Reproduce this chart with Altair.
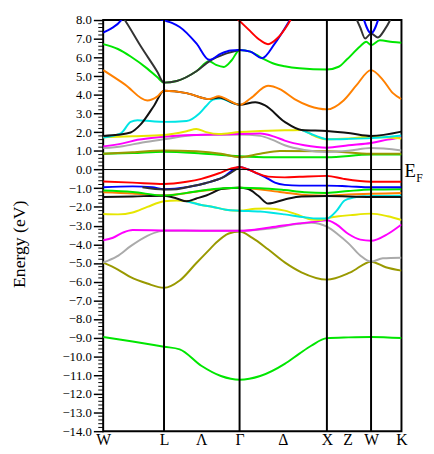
import altair as alt
import pandas as pd

# k-path positions (arbitrary path-length units) and labels
K_LINES = [62, 139, 228, 273]
K_LABEL_POS = [0, 62, 100, 139, 183, 228, 249, 273, 304]
K_LABELS = ["W", "L", "Λ", "Γ", "Δ", "X", "Z", "W", "K"]
E_MAJOR = list(range(-14, 9))

# ---- bands: (k, energy eV) ----
GREEN_LOW = [(0,-8.96),(30,-9.2),(62,-9.48),(78,-9.62),(100,-10.5),(120,-11.05),(139,-11.25),
             (160,-11.05),(185,-10.4),(200,-9.85),(212,-9.43),(228,-9.02),(250,-8.98),(273,-8.96),(304,-9.02)]
OLIVE_LOW = [(0,-4.98),(15,-5.35),(28,-5.76),(45,-6.1),(62,-6.33),(78,-5.94),(95,-5.0),(108,-4.3),
             (115,-3.92),(128,-3.42),(139,-3.32),(152,-3.66),(168,-4.27),(185,-4.97),(202,-5.5),
             (228,-5.89),(252,-5.5),(273,-4.93),(288,-5.23),(304,-5.41)]
GRAY_LOW = [(0,-4.98),(14,-4.65),(28,-4.10),(45,-3.55),(57,-3.31),(62,-3.27),(100,-3.28),(139,-3.28),
            (170,-3.15),(200,-2.9),(212,-2.85),(228,-3.06),(240,-3.5),(250,-3.95),(262,-4.6),
            (273,-4.93),(285,-4.75),(304,-4.72)]
MAGENTA_LOW = [(0,-3.78),(10,-3.65),(20,-3.38),(30,-3.24),(62,-3.26),(100,-3.27),(139,-3.28),
               (170,-3.1),(200,-2.88),(215,-2.8),(228,-2.71),(238,-2.95),(250,-3.45),(262,-3.75),
               (273,-3.81),(290,-3.45),(304,-2.94)]
YELLOW_VAL = [(0,-2.38),(15,-2.4),(30,-2.3),(45,-2.0),(62,-1.70),(75,-1.66),(85,-1.68),(100,-1.9),
              (112,-2.0),(125,-2.15),(139,-2.2),(155,-2.1),(168,-2.08),(185,-2.2),(200,-2.45),
              (212,-2.68),(222,-2.7),(228,-2.61),(240,-2.5),(252,-2.44),(273,-2.36),(290,-2.5),(304,-2.7)]
CYAN_VAL = [(85,-1.70),(100,-1.9),(112,-2.0),(125,-2.15),(139,-2.2),(160,-2.25),(185,-2.4),
            (205,-2.55),(218,-2.62),(228,-2.62),(238,-2.2),(246,-1.66),(255,-1.5),(265,-1.43),
            (273,-1.42),(304,-1.40)]
BLACK_VAL_LOW = [(0,-1.47),(30,-1.44),(62,-1.40),(75,-1.55),(85,-1.70),(95,-1.55),(105,-1.39),
                 (122,-1.03),(139,-0.98),(147,-1.03),(158,-1.4),(168,-1.82),(185,-1.6),(202,-1.44),
                 (228,-1.42),(273,-1.47),(304,-1.47)]
ORANGE_VAL = [(0,-1.21),(30,-1.28),(62,-1.39),(100,-1.15),(139,-0.98),(180,-1.2),(210,-1.38),
              (228,-1.40),(250,-1.33),(273,-1.30),(304,-1.26)]
GREEN_VAL = [(0,-1.12),(30,-1.2),(62,-1.39),(85,-1.25),(105,-1.1),(122,-1.0),(139,-0.98),(160,-1.0),
             (185,-1.1),(205,-1.21),(228,-1.25),(250,-1.15),(273,-1.07),(304,-1.05)]
BLUE_VAL = [(0,-0.95),(30,-0.90),(50,-0.95),(62,-1.05),(85,-0.95),(105,-0.72),(122,-0.42),(139,0.14),
            (148,0.0),(155,-0.16),(165,-0.4),(175,-0.7),(185,-0.82),(200,-0.86),(228,-0.86),
            (250,-0.9),(273,-0.95),(304,-0.95)]
BLACK_VAL_UP = [(40,-0.95),(62,-1.07),(75,-1.05),(85,-0.95),(105,-0.72),(122,-0.42),(139,0.14)]
RED_VAL = [(0,-0.64),(30,-0.7),(62,-0.77),(85,-0.65),(100,-0.5),(118,-0.2),(130,0.05),(139,0.14),
           (148,0.0),(155,-0.16),(168,-0.38),(185,-0.42),(200,-0.39),(228,-0.34),(245,-0.5),
           (273,-0.65),(304,-0.65)]
GREEN_COND = [(0,0.84),(30,0.88),(62,0.95),(100,0.86),(139,0.71),(170,0.66),(228,0.66),(273,0.80),(304,0.80)]
OLIVE_COND = [(0,0.84),(30,0.92),(62,1.02),(95,0.98),(120,0.85),(139,0.66),(160,0.85),(180,0.99),
              (228,0.98),(273,0.84),(304,0.84)]
GRAY_COND = [(0,1.15),(20,1.25),(40,1.45),(62,1.62),(95,1.85),(139,1.88),(160,1.8),(172,1.6),
             (185,1.3),(205,1.05),(228,0.94),(250,1.0),(273,1.15),(304,1.02)]
MAGENTA_COND = [(0,1.24),(20,1.4),(35,1.59),(62,1.76),(95,1.85),(120,1.88),(139,1.9),(160,1.93),
                (175,1.75),(185,1.55),(205,1.3),(228,1.17),(250,1.3),(273,1.42),(290,1.6),(304,1.73)]
YELLOW_COND = [(0,1.73),(30,1.78),(62,1.85),(85,2.05),(95,2.17),(105,2.0),(118,1.9),(139,2.01),
               (160,2.06),(185,2.1),(202,2.12),(215,1.8),(228,1.62),(250,1.66),(273,1.76),(304,1.66)]
CYAN_COND = [(0,1.71),(18,1.94),(28,2.55),(35,2.64),(50,2.58),(62,2.55),(85,2.6),(98,3.0),(105,3.4),
             (112,3.74),(120,3.8),(130,3.6),(139,3.46)]
CYAN_COND2 = [(202,2.12),(212,1.9),(222,1.7),(228,1.62),(250,1.64),(273,1.68),(304,1.82)]
BLACK_COND = [(0,1.80),(15,1.86),(28,1.98),(38,2.4),(52,3.43),(62,4.22),(85,4.09),(108,3.77),
              (118,3.85),(139,3.46),(155,3.6),(165,3.43),(185,2.55),(202,2.12),(228,2.06),
              (252,1.94),(273,1.80),(304,2.03)]
ORANGE_COND = [(0,5.32),(22,4.56),(45,3.69),(55,3.9),(62,4.22),(85,4.09),(108,3.77),(118,3.92),
               (128,3.7),(139,3.46),(150,3.8),(168,4.48),(180,4.3),(195,3.77),(210,3.4),(228,3.22),
               (245,3.7),(258,4.5),(273,5.32),(285,4.8),(295,4.1),(304,3.77)]
GREEN_HIGH = [(0,6.71),(15,6.45),(28,6.05),(45,5.4),(55,4.95),(62,4.65),(75,4.74),(95,5.26),
              (108,5.79),(115,5.6),(123,5.49),(131,5.85),(139,6.40),(150,6.31),(162,5.96),
              (175,5.65),(185,5.53),(200,5.42),(228,5.35),(240,5.5),(248,5.87),(262,6.6),
              (268,6.84),(273,6.66),(282,6.92),(295,6.82),(304,6.79)]
BLACK_HIGH = [(18,8.3),(22,8.0),(38,6.62),(55,5.25),(62,4.65),(75,4.74),(95,5.26),(108,5.79),
              (125,6.2),(139,6.40)]
BLUE_HIGH = [(0,7.33),(8,7.54),(18,7.97),(22,8.3)]
BLUE_HIGH2 = [(55,8.1),(62,7.98),(70,7.85),(78,7.63),(95,6.75),(108,5.87),(120,6.2),(130,6.37),
              (139,6.40),(150,6.31),(162,5.96),(175,6.75),(190,7.97),(194,8.3)]
RED_HIGH = [(132,8.3),(139,7.95),(148,7.5),(158,7.0),(168,6.71),(178,7.05),(188,7.75),(194,8.3)]
BLACK_W = [(256,8.3),(262,7.6),(267,7.01),(273,7.28),(280,7.07),(287,7.5),(292,7.95),(295,8.3)]
BLUE_W = [(264,8.3),(273,7.30),(282,8.3)]

BANDS = [
    ("green_low", "#00e600", GREEN_LOW), ("olive_low", "#999900", OLIVE_LOW),
    ("gray_low", "#aaaaaa", GRAY_LOW), ("magenta_low", "#ff00ff", MAGENTA_LOW),
    ("yellow_val", "#e6e600", YELLOW_VAL), ("cyan_val", "#00e5e5", CYAN_VAL),
    ("orange_val", "#ff8000", ORANGE_VAL), ("black_val_low", "#111111", BLACK_VAL_LOW),
    ("green_val", "#00e600", GREEN_VAL), ("blue_val", "#0000ff", BLUE_VAL),
    ("black_val_up", "#333333", BLACK_VAL_UP), ("red_val", "#ff0000", RED_VAL),
    ("green_cond", "#00e600", GREEN_COND), ("olive_cond", "#999900", OLIVE_COND),
    ("gray_cond", "#aaaaaa", GRAY_COND), ("magenta_cond", "#ff00ff", MAGENTA_COND),
    ("yellow_cond", "#e6e600", YELLOW_COND), ("cyan_cond2", "#00e5e5", CYAN_COND2),
    ("cyan_cond", "#00e5e5", CYAN_COND), ("black_cond", "#111111", BLACK_COND),
    ("orange_cond", "#ff8000", ORANGE_COND), ("green_high", "#00e600", GREEN_HIGH),
    ("black_high", "#333333", BLACK_HIGH), ("blue_high", "#0000ff", BLUE_HIGH),
    ("blue_high2", "#0000ff", BLUE_HIGH2), ("red_high", "#ff0000", RED_HIGH),
    ("black_w", "#333333", BLACK_W), ("blue_w", "#0000ff", BLUE_W),
]

rows = []
for z, (name, col, pts) in enumerate(BANDS):
    for i, (k, e) in enumerate(pts):
        rows.append({"band": f"{z:02d}_{name}", "color": col, "k": k, "E": e, "i": i})
df = pd.DataFrame(rows)

xscale = alt.Scale(domain=[0, 304], nice=False, zero=False)
yscale = alt.Scale(domain=[-14, 8], nice=False, zero=False)
SERIF = "Liberation Serif"

label_map = "{" + ",".join(f"'{p}':'{l}'" for p, l in zip(K_LABEL_POS, K_LABELS)) + "}"
x_axis = alt.Axis(values=K_LABEL_POS, title=None, grid=False, domain=False, ticks=False,
                  labelFont=SERIF, labelFontSize=16, labelColor="black", labelPadding=1,
                  labelFlush=False, labelOverlap=False, labelBound=False,
                  labelExpr=label_map + "[''+datum.value]")
y_axis = alt.Axis(values=E_MAJOR, format=".1f", title="Energy (eV)", grid=False, domain=False,
                  tickSize=10, tickColor="black", tickWidth=1.5, labelPadding=2,
                  labelOverlap=False, labelFlush=False, labelBound=False,
                  labelFont=SERIF, labelFontSize=13, labelColor="black",
                  titleFont=SERIF, titleFontSize=18, titleFontWeight="normal", titleColor="black",
                  titleX=-85, titleY=228, titleAngle=-90, titleAlign="center", titleBaseline="middle")

X = lambda: alt.X("k:Q", scale=xscale, axis=x_axis)
Y = lambda: alt.Y("E:Q", scale=yscale, axis=y_axis)

lines = alt.Chart(df).mark_line(interpolate="monotone", strokeWidth=2, clip=True).encode(
    x=X(), y=Y(),
    color=alt.Color("color:N", scale=None),
    detail="band:N",
    order="i:Q",
)

vlines = alt.Chart(pd.DataFrame({"k": K_LINES})).mark_rule(color="black", strokeWidth=2).encode(x=X())

fermi = alt.Chart(pd.DataFrame({"E": [0]})).mark_rule(color="black", strokeWidth=1).encode(y=Y())

minor_vals = [round(-14 + 0.2 * j, 1) for j in range(111) if (j % 5) != 0]
minor = alt.Chart(pd.DataFrame({"E": minor_vals})).mark_rule(color="black", strokeWidth=1).encode(
    y=Y(), x=alt.value(-5), x2=alt.value(0))

ef_E = alt.Chart(pd.DataFrame({"k": [304], "E": [0]})).mark_text(
    text="E", font=SERIF, fontSize=19, align="left", baseline="middle", dx=3, dy=2, color="black"
).encode(x=X(), y=Y())
ef_F = alt.Chart(pd.DataFrame({"k": [304], "E": [0]})).mark_text(
    text="F", font=SERIF, fontSize=12, align="left", baseline="middle", dx=15, dy=9, color="black"
).encode(x=X(), y=Y())

chart = alt.layer(lines, vlines, fermi, minor, ef_E, ef_F).properties(
    width=304, height=419,
    autosize=alt.AutoSizeParams(type="none"),
    padding={"left": 97, "top": 8, "right": 25, "bottom": 19},
).configure_view(stroke="black", strokeWidth=2)

chart.save("out.html", embed_options={"renderer": "svg", "actions": False})
